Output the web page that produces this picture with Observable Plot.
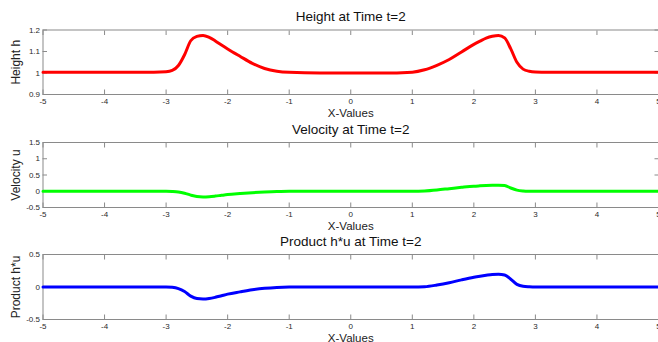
<!DOCTYPE html>
<html>
<head>
<meta charset="utf-8">
<script src="https://cdn.jsdelivr.net/npm/d3@7"></script>
<script src="https://cdn.jsdelivr.net/npm/@observablehq/plot@0.6"></script>
<style>
  html, body { margin: 0; padding: 0; background: #fff; }
  #chart { width: 658px; height: 342px; overflow: hidden; }
</style>
</head>
<body>
<div id="chart"></div>
<script>
// Sample positions along x
const xs = [-5, -4, -3.2, -3.0, -2.9, -2.8, -2.7, -2.6, -2.5, -2.4, -2.3, -2.2, -2.1, -2.0, -1.8, -1.6, -1.4, -1.2, -1.0, -0.5, 0, 0.5, 1.0, 1.2, 1.4, 1.6, 1.8, 2.0, 2.1, 2.2, 2.3, 2.4, 2.5, 2.6, 2.7, 2.8, 2.9, 3.0, 3.2, 4, 5];
// Height h
const hVals = [1.004, 1.004, 1.004, 1.006, 1.012, 1.035, 1.085, 1.15, 1.17, 1.175, 1.166, 1.149, 1.13, 1.112, 1.078, 1.045, 1.021, 1.008, 1.003, 1.0, 1.0, 1.0, 1.004, 1.015, 1.036, 1.063, 1.098, 1.133, 1.148, 1.162, 1.171, 1.175, 1.163, 1.112, 1.05, 1.018, 1.008, 1.005, 1.004, 1.004, 1.004];
// Velocity u
const uVals = [0, 0, 0, 0, -0.005, -0.02, -0.06, -0.12, -0.163, -0.175, -0.167, -0.148, -0.125, -0.103, -0.072, -0.045, -0.024, -0.008, 0, 0, 0, 0, 0, 0.01, 0.04, 0.08, 0.12, 0.155, 0.166, 0.176, 0.183, 0.185, 0.175, 0.10, 0.035, 0.01, 0.002, 0, 0, 0, 0];
// Product h*u
const huVals = [0, 0, 0, 0, -0.005, -0.025, -0.07, -0.14, -0.178, -0.185, -0.177, -0.158, -0.134, -0.11, -0.075, -0.043, -0.02, -0.006, 0, 0, 0, 0, 0, 0.005, 0.03, 0.065, 0.11, 0.15, 0.166, 0.18, 0.192, 0.196, 0.185, 0.12, 0.04, 0.01, 0.003, 0, 0, 0, 0];

const xTicks = [-5, -4, -3, -2, -1, 0, 1, 2, 3, 4, 5];
const hTicks = [0.9, 1, 1.1, 1.2];
const uTicks = [-0.5, 0, 0.5, 1, 1.5];
const huTicks = [-0.5, 0, 0.5];

const titles = ["Height at Time t=2", "Velocity at Time t=2", "Product h*u at Time t=2"];
const yLabels = ["Height h", "Velocity u", "Product h*u"];
const xLabel = "X-Values";
const colors = ["#ff0000", "#00ff00", "#0000ff"];

const FONT = "'Liberation Sans', Arial, sans-serif";
const FRAME = "#8a8a8a";

function panel({vals, domain, ticks, color, title, ylabel, height, marginTop, marginBottom}) {
  const data = xs.map((x, i) => ({x, y: vals[i]}));
  return Plot.plot({
    width: 658,
    height,
    marginLeft: 42.5,
    marginRight: 0,
    marginTop,
    marginBottom,
    style: {background: "transparent", overflow: "visible", fontFamily: FONT},
    x: {domain: [-5, 5]},
    y: {domain},
    marks: [
      Plot.axisX({anchor: "bottom", ticks: xTicks, tickSize: -4.5, tickPadding: 8, tickFormat: d => String(d), fontSize: 8, color: "#2a2a2a", stroke: FRAME, label: null}),
      Plot.axisX({anchor: "top", ticks: xTicks, tickSize: -4.5, tickFormat: () => "", stroke: FRAME, label: null}),
      Plot.axisY({anchor: "left", ticks, tickSize: -4.5, tickPadding: 7.5, tickFormat: d => String(d), fontSize: 8, color: "#2a2a2a", stroke: FRAME, label: null}),
      Plot.axisY({anchor: "right", ticks, tickSize: -4.5, tickFormat: () => "", stroke: FRAME, label: null}),
      Plot.frame({stroke: FRAME}),
      Plot.line(data, {x: "x", y: "y", stroke: color, strokeWidth: 3, curve: "monotone-x"}),
      Plot.text([title], {frameAnchor: "top", dy: -13, text: d => d, fontSize: 13.5, fill: "#111", lineAnchor: "middle"}),
      Plot.text([xLabel], {frameAnchor: "bottom", dy: 18.5, text: d => d, fontSize: 11.5, fill: "#222", lineAnchor: "middle"}),
      Plot.text([ylabel], {frameAnchor: "left", dx: -26.5, rotate: -90, text: d => d, fontSize: 12, fill: "#222", textAnchor: "middle", lineAnchor: "middle"})
    ]
  });
}

const el = document.getElementById("chart");
el.appendChild(panel({vals: hVals, domain: [0.9, 1.2], ticks: hTicks, color: colors[0], title: titles[0], ylabel: yLabels[0], height: 117, marginTop: 29.5, marginBottom: 23}));
el.appendChild(panel({vals: uVals, domain: [-0.5, 1.5], ticks: uTicks, color: colors[1], title: titles[1], ylabel: yLabels[1], height: 113, marginTop: 25, marginBottom: 23}));
el.appendChild(panel({vals: huVals, domain: [-0.5, 0.5], ticks: huTicks, color: colors[2], title: titles[2], ylabel: yLabels[2], height: 112, marginTop: 24, marginBottom: 23}));
</script>
</body>
</html>
